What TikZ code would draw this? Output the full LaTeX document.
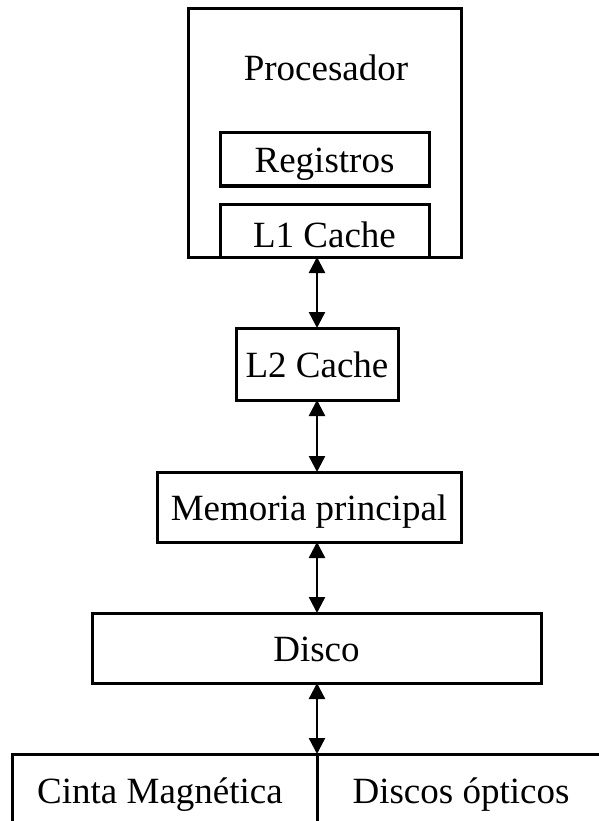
\documentclass[tikz,border=0pt]{standalone}
\usepackage{fontspec}
\setmainfont{Liberation Serif}
\usetikzlibrary{arrows.meta}
\begin{document}
\begin{tikzpicture}[x=1pt,y=-1pt,
  box/.style={draw,line width=3pt,inner sep=0pt,outer sep=0pt,
    font=\fontsize{37}{40}\selectfont,text height=27pt,text depth=0pt},
  lbl/.style={inner sep=0pt,font=\fontsize{37}{40}\selectfont,anchor=base},
  link/.style={line width=2.4pt,
    {Triangle[width=16pt,length=16pt]}-{Triangle[width=16pt,length=16pt]}}]
\useasboundingbox (0,0) rectangle (599,821);

% processor with its registers and first-level cache
\node[box,minimum width=273pt,minimum height=248pt] (proc) at (324.5,133) {};
\node[lbl] (proctxt) at (326,81) {Procesador};
\node[box,minimum width=209pt,minimum height=53pt] (reg) at (324.5,159.5) {Registros};
\node[box,minimum width=209pt,minimum height=53pt,text height=33pt] (l1) at (324.5,230.5) {L1 Cache};

% lower levels of the hierarchy
\node[box,minimum width=162pt,minimum height=72pt] (l2) at (317,364) {L2 Cache};
\node[box,minimum width=304pt,minimum height=70pt] (mem) at (309,507) {Memoria principal};
\node[box,minimum width=449pt,minimum height=70pt] (disco) at (316.5,648) {Disco};

% tertiary storage
\node[box,minimum width=305pt,minimum height=96pt] (cinta) at (164.5,802) {};
\node[box,minimum width=293pt,minimum height=96pt] (opt) at (463.5,802) {};
\node[lbl] (cintatxt) at (160,803) {Cinta Magnética};
\node[lbl] (opttxt) at (461,803) {Discos ópticos};

% two-way transfers between levels
\draw[link] (l2.north |- proc.south) -- (l2.north);
\draw[link] (l2.south) -- (l2.south |- mem.north);
\draw[link] (l2.south |- mem.south) -- (l2.south |- disco.north);
\draw[link] (l2.south |- disco.south) -- (l2.south |- cinta.north);
\end{tikzpicture}
\end{document}
